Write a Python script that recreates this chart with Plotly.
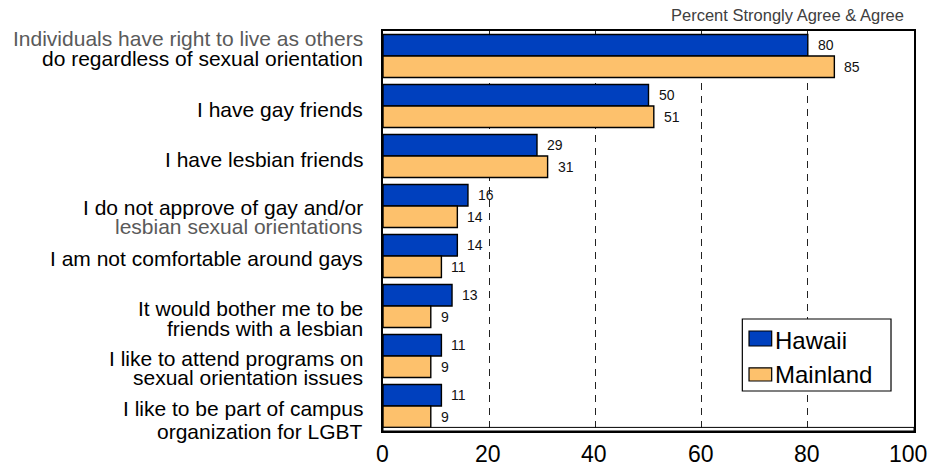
import plotly.graph_objects as go

# Survey items (each inner list is one line of the label)
categories = [
    ["Individuals have right to live as others", "do regardless of sexual orientation"],
    ["I have gay friends"],
    ["I have lesbian friends"],
    ["I do not approve of gay and/or", "lesbian sexual orientations"],
    ["I am not comfortable around gays"],
    ["It would bother me to be", "friends with a lesbian"],
    ["I like to attend programs on", "sexual orientation issues"],
    ["I like to be part of campus", "organization for LGBT"],
]
series_names = ["Hawaii", "Mainland"]
hawaii = [80, 50, 29, 16, 14, 13, 11, 11]
mainland = [85, 51, 31, 14, 11, 9, 9, 9]
x_ticks = [0, 20, 40, 60, 80, 100]
subtitle = "Percent Strongly Agree & Agree"

# styling
colors = ["#0040BE", "#FDC16C"]
gray_lines = {(0, 0), (3, 1)}          # label lines rendered in gray
first_line_shift = [-18, 3, 3, 1, 2, 2, 2, 2]   # px, relative to band centre
second_line_gap = [20.5, 0, 0, 19, 0, 20.5, 19, 23]
FONT = "Liberation Sans, Arial, sans-serif"
BARGAP = 0.14

cat_keys = [" ".join(c) for c in categories]

fig = go.Figure()
for name, vals, col in zip(series_names, [hawaii, mainland], colors):
    fig.add_trace(go.Bar(
        y=cat_keys, x=vals, name=name, orientation="h",
        marker=dict(color=col, line=dict(color="black", width=1.4)),
        showlegend=False,
    ))

annotations = []
half = (1 - BARGAP) / 4  # centre offset of each bar within its band
for i in range(len(categories)):
    for vals, off in ((hawaii, -half), (mainland, half)):
        annotations.append(dict(
            x=vals[i], y=i + off, xref="x", yref="y", text=str(vals[i]),
            showarrow=False, xanchor="left", yanchor="middle", xshift=8,
            font=dict(family=FONT, size=14, color="#111111"),
        ))

# category labels, each line placed separately for tight line spacing
for i, lines in enumerate(categories):
    for j, line in enumerate(lines):
        shift = first_line_shift[i] + (second_line_gap[i] if j == 1 else 0)
        annotations.append(dict(
            x=-0.034, y=i, xref="paper", yref="y", text=line,
            showarrow=False, xanchor="right", yanchor="middle",
            yshift=-shift,
            font=dict(family=FONT, size=21,
                      color="#5a5a5a" if (i, j) in gray_lines else "#000000"),
        ))

# x tick labels (the last one is kept inside the page edge)
for t in x_ticks:
    last = t == x_ticks[-1]
    annotations.append(dict(
        x=t, y=-0.058, xref="x", yref="paper", text=str(t),
        showarrow=False, xanchor="right" if last else "center",
        yanchor="middle", xshift=15 if last else -1,
        font=dict(family=FONT, size=23, color="black"),
    ))

annotations.append(dict(
    x=0.985, y=1.04, xref="paper", yref="paper", text=subtitle,
    showarrow=False, xanchor="right", yanchor="middle",
    font=dict(family=FONT, size=16.5, color="#404040"),
))

# legend box
shapes = [
    dict(type="rect", xref="paper", yref="paper", x0=0.6767, x1=0.9567,
         y0=0.10, y1=0.28, line=dict(color="black", width=1.2),
         fillcolor="white", layer="above"),
    # floor edge of the plot
    dict(type="rect", xref="paper", yref="paper", x0=0, x1=1,
         y0=0, y1=0.009, line=dict(color="black", width=1),
         fillcolor="white", layer="above"),
]
sw_y = [(0.2125, 0.25), (0.125, 0.158)]
txt_y = [0.2255, 0.1413]
for k, name in enumerate(series_names):
    shapes.append(dict(
        type="rect", xref="paper", yref="paper", x0=0.6893, x1=0.732,
        y0=sw_y[k][0], y1=sw_y[k][1], fillcolor=colors[k],
        line=dict(color="black", width=1.2), layer="above",
    ))
    annotations.append(dict(
        x=0.7345, y=txt_y[k], xref="paper", yref="paper", text=name,
        showarrow=False, xanchor="left", yanchor="middle",
        font=dict(family=FONT, size=24, color="black"),
    ))

fig.update_layout(
    width=930, height=468,
    margin=dict(l=383, r=16, t=31, b=37, autoexpand=False),
    paper_bgcolor="white", plot_bgcolor="white",
    barmode="group", bargap=BARGAP, bargroupgap=0,
    font=dict(family=FONT, color="black"),
    annotations=annotations, shapes=shapes,
    xaxis=dict(
        range=[0, 100], tickvals=x_ticks, ticks="", showticklabels=False,
        showgrid=True, gridcolor="#222222", gridwidth=1, griddash="7px,6px",
        zeroline=False, showline=True, mirror=True,
        linecolor="black", linewidth=1.5, automargin=False,
    ),
    yaxis=dict(
        type="category", range=[7.5, -0.5], showticklabels=False,
        ticks="", showgrid=False, zeroline=False, showline=True,
        mirror=True, linecolor="black", linewidth=1.5, automargin=False,
    ),
)

fig.write_html("out.html")
